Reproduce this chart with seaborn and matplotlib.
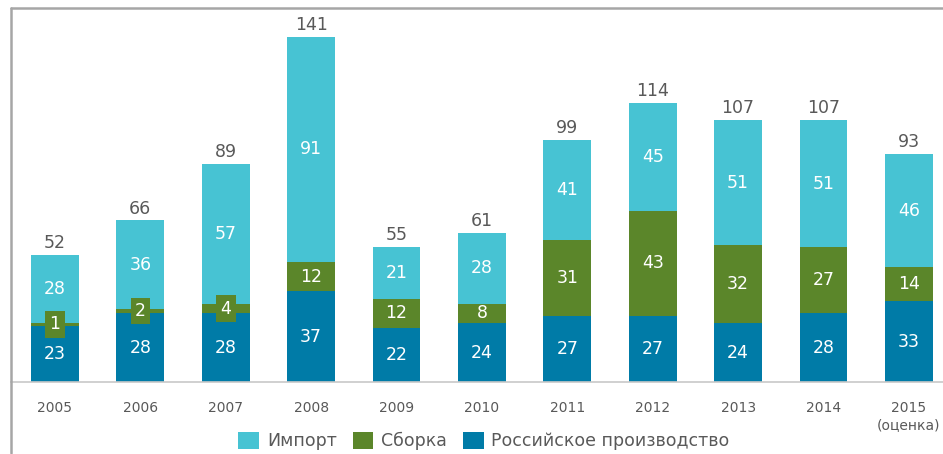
import matplotlib
matplotlib.use("Agg")
import matplotlib.pyplot as plt
from matplotlib.lines import Line2D
from matplotlib.patches import Patch
import seaborn as sns
import pandas as pd

years = ["2005", "2006", "2007", "2008", "2009", "2010", "2011", "2012", "2013", "2014", "2015\n(оценка)"]
import_vals = [28, 36, 57, 91, 21, 28, 41, 45, 51, 51, 46]
assembly_vals = [1, 2, 4, 12, 12, 8, 31, 43, 32, 27, 14]
russian_vals = [23, 28, 28, 37, 22, 24, 27, 27, 24, 28, 33]
totals = [52, 66, 89, 141, 55, 61, 99, 114, 107, 107, 93]

series_names = ["Импорт", "Сборка", "Российское производство"]
c_import = "#47C3D3"
c_assembly = "#5B862A"
c_russian = "#007BA7"
text_gray = "#595959"

sns.set_theme(style="white")
plt.rcParams["font.family"] = ["DejaVu Sans"]

W, H = 943, 454
fig = plt.figure(figsize=(W / 100, H / 100), dpi=100)
ax = fig.add_axes([11 / W, (H - 382) / H, 1 - 11 / W, (382 - 8) / H])

df = pd.DataFrame({
    "year": years,
    "imp": import_vals,
    "asm": assembly_vals,
    "rus": russian_vals,
    "total": totals,
})
df["rus_asm"] = df["rus"] + df["asm"]

bw = 0.56
sns.barplot(data=df, x="year", y="total", color=c_import, width=bw, saturation=1, ax=ax, linewidth=0)
sns.barplot(data=df, x="year", y="rus_asm", color=c_assembly, width=bw, saturation=1, ax=ax, linewidth=0)
sns.barplot(data=df, x="year", y="rus", color=c_russian, width=bw, saturation=1, ax=ax, linewidth=0)

fs = 12.5
for i in range(len(years)):
    r, a, t = russian_vals[i], assembly_vals[i], totals[i]
    ax.text(i, r / 2, str(r), ha="center", va="center", color="white", fontsize=fs)
    if a < 6:
        ax.text(i, r + a / 2, str(a), ha="center", va="center", color="white", fontsize=fs,
                bbox=dict(boxstyle="square,pad=0.25", fc=c_assembly, ec="none"))
    else:
        ax.text(i, r + a / 2, str(a), ha="center", va="center", color="white", fontsize=fs)
    ax.text(i, (r + a + t) / 2, str(import_vals[i]), ha="center", va="center", color="white", fontsize=fs)
    ax.text(i, t + 1.2, str(t), ha="center", va="bottom", color=text_gray, fontsize=fs)

ax.set_xlim(-0.515, 10.40)
ax.set_ylim(0, 152.8)
ax.set_xlabel("")
ax.set_ylabel("")
ax.set_yticks([])
ax.tick_params(axis="x", length=0, pad=14, labelsize=10, labelcolor=text_gray)
for s in ["top", "right", "left"]:
    ax.spines[s].set_visible(False)
ax.spines["bottom"].set_color("#C8C8C8")
ax.spines["bottom"].set_linewidth(1.2)

# outer frame lines
fig.add_artist(Line2D([11 / W, 11 / W], [(H - 8) / H, (H - 453) / H], color="#A6A6A6", lw=1.8))
fig.add_artist(Line2D([11 / W, 1], [(H - 8) / H, (H - 8) / H], color="#A6A6A6", lw=1.8))

handles = [Patch(facecolor=c_import, edgecolor="none"),
           Patch(facecolor=c_assembly, edgecolor="none"),
           Patch(facecolor=c_russian, edgecolor="none")]
leg = fig.legend(handles, series_names, loc="center", bbox_to_anchor=(484 / W, (H - 441) / H),
                 ncol=3, frameon=False, fontsize=12.5, handlelength=1.2, handleheight=1.2,
                 handletextpad=0.45, columnspacing=0.9)
for t in leg.get_texts():
    t.set_color(text_gray)

fig.savefig("out.png", dpi=100)
